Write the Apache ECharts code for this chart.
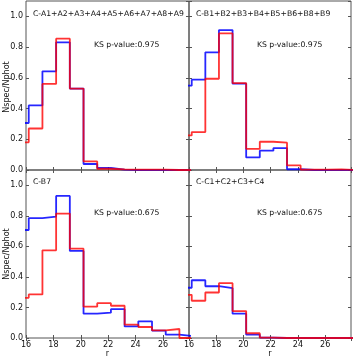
<!DOCTYPE html>
<html>
<head>
<meta charset="utf-8">
<script src="https://cdn.jsdelivr.net/npm/echarts@6/dist/echarts.min.js"></script>
<style>html,body{margin:0;padding:0;background:#fff}#c{width:354px;height:360px}</style>
</head>
<body>
<div id="c"></div>
<script>
// bin left edges (bins are 1 wide)
const binStarts = [15.2,16.2,17.2,18.2,19.2,20.2,21.2,22.2,23.2,24.2,25.2,26.2,27.2];
const xTicks = [16,18,20,22,24,26];
const yTicks = [0,0.2,0.4,0.6,0.8,1.0];

const panelTitles = ['C-A1+A2+A3+A4+A5+A6+A7+A8+A9','C-B1+B2+B3+B4+B5+B6+B8+B9','C-B7','C-C1+C2+C3+C4'];
const ksTexts = ['KS p-value:0.975','KS p-value:0.975','KS p-value:0.675','KS p-value:0.675'];

const blueA = [0.306,0.42,0.642,0.831,0.53,0.039,0.013,0.002,0,0,0,0,0];
const redA  = [0.18,0.27,0.56,0.855,0.53,0.056,0.008,0.004,0.003,0.003,0.003,0,0];
const blueB = [0.549,0.588,0.766,0.911,0.562,0.082,0.126,0.143,0.005,0,0,0,0];
const redB  = [0.225,0.247,0.594,0.889,0.566,0.137,0.184,0.178,0.030,0.003,0.002,0.004,0];
const blueB7 = [0.707,0.785,0.795,0.930,0.570,0.159,0.166,0.189,0.076,0.109,0.048,0.022,0.013];
const redB7  = [0.263,0.285,0.574,0.815,0.585,0.205,0.228,0.211,0.087,0.072,0.050,0.059,0.0];
const blueC = [0.329,0.378,0.339,0.326,0.159,0.022,0.003,0,0,0,0,0,0];
const redC  = [0.283,0.244,0.298,0.359,0.176,0.031,0.002,0,0,0,0,0,0];

const blues = [blueA, blueB, blueB7, blueC];
const reds = [redA, redB, redB7, redC];

function stepData(vals){
  const d = binStarts.map((x,i)=>[x, vals[i]]);
  d.push([binStarts[binStarts.length-1]+1, vals[vals.length-1]]);
  return d;
}

const FONT = 'DejaVu Sans';
const TF = '7.7px "DejaVu Sans"';
const frame = '#555';
const grids = [
  {left:26, top:1, width:163, height:169},
  {left:189, top:1, width:162, height:169},
  {left:26, top:170, width:163, height:168},
  {left:189, top:170, width:162, height:168}
].map(g=>Object.assign(g,{show:true, borderColor:frame, borderWidth:1, backgroundColor:'transparent'}));

const xAxis = [], yAxis = [], series = [];
const near = (v, arr)=>arr.some(t=>Math.abs(t-v)<1e-6);
for (let g=0; g<4; g++){
  const showX = g>=2, showY = (g%2===0);
  ['bottom','top'].forEach(pos=>{
    xAxis.push({
      type:'value', gridIndex:g, position:pos, min:16, max:27.9, interval:2,
      axisLine:{show:false}, splitLine:{show:false},
      axisTick:{show:true, inside:true, length:3, lineStyle:{color:frame, width:1}},
      axisLabel:{show: pos==='bottom' && showX, fontFamily:FONT, fontSize:8, color:'#111', margin:3,
        showMaxLabel:false,
        formatter:v=> near(v,xTicks)? String(v):''}
    });
  });
  ['left','right'].forEach(pos=>{
    yAxis.push({
      type:'value', gridIndex:g, position:pos, min:0, max:1.1, interval:0.2,
      axisLine:{show:false}, splitLine:{show:false},
      axisTick:{show:true, inside:true, length:3, lineStyle:{color:frame, width:1}},
      axisLabel:{show: pos==='left' && showY, fontFamily:FONT, fontSize:8, color:'#111', margin:3,
        showMaxLabel:false,
        formatter:v=> near(v,yTicks)? v.toFixed(1):''}
    });
  });
  series.push({
    type:'line', xAxisIndex:g*2, yAxisIndex:g*2, step:'end', symbol:'none', clip:true,
    data: stepData(blues[g]), lineStyle:{color:'#0000ff', width:1.8, opacity:0.85}, z:2, animation:false
  });
  series.push({
    type:'line', xAxisIndex:g*2, yAxisIndex:g*2, step:'end', symbol:'none', clip:true,
    data: stepData(reds[g]), lineStyle:{color:'#ff0000', width:1.8, opacity:0.8}, z:3, animation:false
  });
}

const textPos = [
  {tx:33, ty:14, kx:94, ky:45},
  {tx:196, ty:14, kx:257, ky:45},
  {tx:33, ty:182, kx:94, ky:213},
  {tx:196, ty:182, kx:257, ky:213}
];
const graphic = [];
textPos.forEach((p,i)=>{
  graphic.push({type:'text', x:p.tx, y:p.ty, style:{text:panelTitles[i], font:TF, fill:'#111', verticalAlign:'middle', align:'left'}, z:10});
  graphic.push({type:'text', x:p.kx, y:p.ky, style:{text:ksTexts[i], font:TF, fill:'#111', verticalAlign:'middle', align:'left'}, z:10});
});
[87, 254].forEach(y=>{
  graphic.push({type:'text', x:7, y:y, rotation:Math.PI/2, style:{text:'Nspec/Nphot', font:'8px "DejaVu Sans"', fill:'#111', verticalAlign:'middle', align:'center'}, z:10});
});
[107.5, 270].forEach(x=>{
  graphic.push({type:'text', x:x, y:353.5, style:{text:'r', font:'8px "DejaVu Sans"', fill:'#111', verticalAlign:'middle', align:'center'}, z:10});
});

const chart = echarts.init(document.getElementById('c'), null, {renderer:'canvas'});
chart.setOption({
  animation:false,
  backgroundColor:'#fff',
  grid: grids, xAxis, yAxis, series, graphic
});
</script>
</body>
</html>
